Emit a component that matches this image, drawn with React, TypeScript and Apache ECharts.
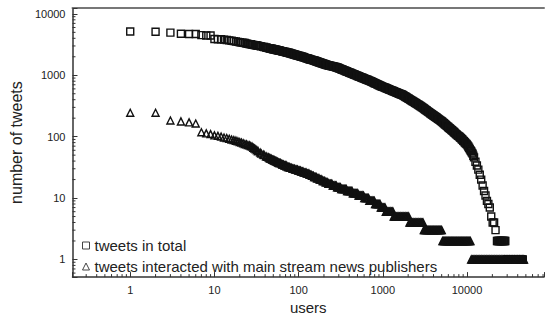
import React, { useEffect, useRef } from 'react';
import * as echarts from 'echarts';

// Axis extents (log scales)
const X_MIN = 0.2062;
const X_MAX = 82100;
const Y_MIN = 0.516;
const Y_MAX = 12460;

const seriesNames = ['tweets in total', 'tweets interacted with main stream news publishers'];
const xAxisName = 'users';
const yAxisName = 'number of tweets';
const majorTickLabels = [1, 10, 100, 1000, 10000];

// [user rank, number of tweets]
const totalTweets: [number, number][] = [
  [1, 5150], [2, 5100], [3, 4950], [4, 4750], [5, 4700], [6, 4700], [7, 4500], [8, 4450], [9, 4450], [10, 3900],
  [11, 3850], [12, 3850], [13, 3800], [14, 3750], [15, 3700], [16, 3650], [17, 3600], [18, 3550], [19, 3500], [20, 3450],
  [21, 3400], [22, 3380], [23, 3350], [24, 3300], [25, 3250], [26, 3220], [27, 3200], [28, 3150], [29, 3120],
  [30, 3100], [31, 3080], [32, 3050], [33, 3020], [35, 2980], [36, 2950], [38, 2900], [39, 2880], [41, 2830], [42, 2810],
  [44, 2770], [46, 2730], [48, 2700], [50, 2660], [52, 2630], [54, 2600], [56, 2570], [58, 2540], [60, 2510], [63, 2470],
  [65, 2450], [68, 2410], [71, 2380], [73, 2350], [76, 2320], [79, 2280], [83, 2240], [86, 2210], [89, 2180], [93, 2140],
  [97, 2100], [101, 2070], [105, 2040], [109, 2010], [113, 1980], [118, 1940], [123, 1900], [128, 1870], [133, 1840],
  [138, 1810], [144, 1780], [150, 1750], [156, 1720], [162, 1690], [168, 1660], [175, 1630], [182, 1600], [189, 1570],
  [197, 1540], [205, 1510], [213, 1480], [222, 1460], [230, 1440], [240, 1420], [249, 1410], [259, 1390], [270, 1370],
  [280, 1350], [292, 1325], [303, 1298], [315, 1270], [328, 1241], [341, 1214], [355, 1188], [369, 1162], [384, 1136],
  [399, 1112], [415, 1088], [432, 1064], [449, 1041], [467, 1019], [486, 996], [505, 975], [525, 954], [546, 933],
  [568, 912], [591, 892], [615, 872], [639, 854], [665, 835], [691, 818], [719, 800], [748, 780], [778, 760], [809, 741],
  [841, 723], [875, 705], [910, 687], [946, 670], [984, 653], [1023, 642], [1064, 628], [1107, 613], [1151, 600],
  [1197, 586], [1245, 573], [1295, 561], [1347, 548], [1401, 536], [1457, 524], [1515, 512], [1576, 501], [1639, 490],
  [1704, 481], [1772, 466], [1843, 451], [1917, 436], [1994, 421], [2073, 408], [2156, 394], [2243, 381], [2332, 369],
  [2426, 356], [2523, 345], [2624, 333], [2729, 322], [2838, 311], [2951, 300], [3069, 288], [3192, 277], [3320, 266],
  [3453, 256], [3591, 246], [3734, 237], [3884, 228], [4039, 219], [4201, 211], [4369, 203], [4543, 195], [4725, 188],
  [4914, 181], [5111, 173], [5315, 165], [5528, 158], [5749, 150], [5979, 144], [6218, 137], [6467, 131], [6725, 125],
  [6994, 119], [7274, 113], [7565, 108], [7868, 103], [8183, 99], [8510, 94], [8850, 89], [9204, 84], [9572, 79],
  [9955, 75], [10354, 69], [10768, 63], [11199, 58], [11647, 53], [12113, 46], [12597, 39], [13101, 34], [13625, 29],
  [14170, 24], [14737, 20], [15326, 16], [15939, 13], [16577, 11], [17240, 9], [17930, 8], [18647, 7], [19393, 5],
  [20169, 4], [20975, 4], [21814, 3], [22687, 2], [23594, 2], [24538, 2], [25520, 2], [26541, 2], [27602, 2], [28500, 2],
  [29854, 1], [31048, 1], [32290, 1], [33582, 1], [34925, 1], [36322, 1], [37775, 1], [39286, 1], [40857, 1], [42491, 1],
  [44191, 1], [45959, 1],
];

// more users of the same series, in between the ones above
const totalTweetsMore: [number, number][] = [
  [45, 2750], [47, 2715], [49, 2680], [51, 2645], [53, 2615], [55, 2585], [57, 2555], [59, 2525], [61, 2495],
  [64, 2460], [66, 2430], [70, 2390], [72, 2365], [75, 2330], [78, 2300], [81, 2260], [85, 2220], [88, 2190],
  [91, 2160], [95, 2120], [99, 2085], [103, 2055], [107, 2025], [111, 1995], [115, 1960], [120, 1920], [125, 1885],
  [130, 1855], [135, 1825], [141, 1795], [147, 1765], [153, 1735], [159, 1705], [165, 1675], [171, 1645], [178, 1615],
  [185, 1585], [193, 1555], [201, 1525], [209, 1495], [217, 1470], [226, 1450], [235, 1430], [244, 1415], [254, 1400],
  [264, 1380], [275, 1360], [286, 1338], [297, 1311], [309, 1284], [321, 1255], [334, 1228], [348, 1201], [362, 1175],
  [376, 1149], [391, 1124], [407, 1100], [423, 1076], [440, 1052], [458, 1030], [476, 1007], [495, 985], [515, 964],
  [535, 943], [557, 922], [579, 902], [603, 882], [627, 863], [652, 844], [678, 826], [705, 809], [733, 790],
  [763, 770], [793, 750], [825, 732], [858, 714], [892, 696], [928, 678], [965, 661], [1003, 647], [1043, 635],
  [1085, 620], [1129, 606], [1174, 593], [1221, 579], [1270, 567], [1321, 554], [1374, 542], [1429, 530], [1486, 518],
  [1545, 506], [1607, 495], [1671, 485], [1738, 473], [1807, 458], [1880, 443], [1955, 428], [2033, 414], [2114, 401],
  [2199, 387], [2287, 375], [2379, 362], [2474, 350], [2573, 339], [2676, 327], [2783, 316], [2894, 305], [3010, 294],
  [3130, 282], [3256, 271], [3386, 261], [3522, 251], [3662, 241], [3808, 232], [3961, 223], [4119, 215], [4284, 207],
  [4455, 199], [4633, 191], [4819, 184], [5012, 177], [5212, 169], [5420, 161], [5637, 154], [5863, 147], [6097, 140],
  [6341, 134], [6595, 128], [6858, 122], [7133, 116], [7418, 110], [7715, 105], [8024, 101], [8345, 96], [8678, 91],
  [9025, 86], [9386, 81], [9762, 77], [10153, 72], [10559, 66], [10981, 60], [11421, 55], [11878, 49],
  [23135, 2], [24061, 2], [25024, 2], [26026, 2], [27067, 2], [28000, 2],
  [30446, 1], [31664, 1], [32931, 1], [34248, 1], [35618, 1], [37042, 1], [38523, 1], [40064, 1], [41667, 1],
  [43333, 1], [45067, 1],
];

const newsTweets: [number, number][] = [
  [1, 245], [2, 245], [3, 183], [4, 177], [5, 171], [6, 164], [7, 118], [8, 113], [9, 110], [10, 105],
  [11, 103], [12, 100], [13, 97], [14, 95], [15, 92], [16, 90], [17, 88], [18, 86], [19, 84], [20, 82],
  [21, 80], [22, 78], [23, 76], [24, 75], [25, 73], [26, 72], [27, 70], [28, 69], [29, 66],
  [30, 64], [31, 62], [32, 60], [33, 58], [35, 55], [36, 53], [38, 51], [39, 50], [41, 48], [42, 47], [44, 46],
  [46, 44], [48, 43], [50, 42], [52, 41], [54, 40], [56, 39], [58, 38], [60, 37], [63, 36], [65, 35], [68, 34],
  [71, 34], [73, 33], [76, 32], [79, 31], [83, 31], [86, 30], [89, 30], [93, 29], [97, 29], [101, 28], [105, 28],
  [109, 27], [113, 27], [118, 26], [123, 26], [128, 25], [133, 25], [138, 24], [144, 23], [150, 23], [156, 22],
  [162, 22], [168, 21], [175, 21], [182, 20], [189, 20], [197, 19], [205, 19], [213, 18], [222, 18], [230, 17],
  [240, 17], [249, 17], [259, 16], [270, 16], [280, 16], [292, 15], [303, 15], [315, 15], [328, 14], [341, 14],
  [355, 14], [369, 14], [384, 13], [399, 13], [415, 13], [432, 13], [449, 12], [467, 12], [486, 12], [505, 12],
  [525, 11], [546, 11], [568, 11], [591, 11], [615, 10], [639, 10], [665, 10], [691, 9], [719, 9], [748, 9],
  [778, 9], [809, 8], [841, 8], [875, 8], [910, 8], [946, 7], [984, 7], [1023, 7], [1064, 7], [1107, 6], [1151, 6],
  [1197, 6], [1245, 6], [1295, 6], [1347, 5], [1401, 5], [1457, 5], [1515, 5], [1576, 5], [1639, 5], [1704, 5],
  [1772, 5], [1843, 5], [1917, 5], [1994, 5], [2073, 4], [2156, 4], [2243, 4], [2332, 4], [2426, 4], [2523, 4],
  [2624, 4], [2729, 4], [2838, 4], [2951, 4], [3069, 3], [3192, 3], [3320, 3], [3453, 3], [3591, 3], [3734, 3],
  [3884, 3], [4039, 3], [4201, 3], [4369, 3], [4543, 3], [4725, 3], [4914, 3], [5111, 2], [5315, 2], [5528, 2],
  [5749, 2], [5979, 2], [6218, 2], [6467, 2], [6725, 2], [6994, 2], [7274, 2], [7565, 2], [7868, 2], [8183, 2],
  [8510, 2], [8850, 2], [9204, 2], [9572, 2], [9955, 2], [10354, 2], [10768, 2], [11199, 1], [11647, 1], [12113, 1],
  [12597, 1], [13101, 1], [13625, 1], [14170, 1], [14737, 1], [15326, 1], [15939, 1], [16577, 1], [17240, 1],
  [17930, 1], [18647, 1], [19393, 1], [20169, 1], [20975, 1], [21814, 1], [22687, 1], [23594, 1], [24538, 1],
  [25520, 1], [26541, 1], [27602, 1], [28706, 1], [29854, 1], [31048, 1], [32290, 1], [33582, 1], [34925, 1],
  [36322, 1], [37775, 1], [39286, 1], [40857, 1], [42491, 1], [44191, 1], [45959, 1], [47500, 1],
];

const newsTweetsMore: [number, number][] = [
  [45, 45], [47, 44], [49, 42], [51, 41], [53, 40], [55, 39], [57, 38], [59, 37], [61, 37], [64, 35], [66, 35],
  [70, 34], [72, 33], [75, 32], [78, 32], [81, 31], [85, 30], [88, 30], [91, 29], [95, 29], [99, 28], [103, 28],
  [107, 27], [111, 27], [115, 26], [120, 26], [125, 25], [130, 25], [135, 24], [141, 24], [147, 23], [153, 22],
  [159, 22], [165, 21], [171, 21], [178, 20], [185, 20], [193, 19], [201, 19], [209, 18], [217, 18], [226, 17],
  [235, 17], [244, 17], [254, 16], [264, 16], [275, 16], [286, 15], [297, 15], [309, 15], [321, 14], [334, 14],
  [348, 14], [362, 14], [376, 13], [391, 13], [407, 13], [423, 13], [440, 12], [458, 12], [476, 12], [495, 12],
  [515, 11], [535, 11], [557, 11], [579, 11], [603, 10], [627, 10], [652, 10], [678, 10], [705, 9], [733, 9],
  [763, 9], [793, 9], [825, 8], [858, 8], [892, 8], [928, 8], [965, 7], [1003, 7], [1043, 7], [1085, 6],
  [1129, 6], [1174, 6], [1221, 6], [1270, 6], [1321, 6], [1374, 5], [1429, 5], [1486, 5], [1545, 5], [1607, 5],
  [1671, 5], [1738, 5], [1807, 5], [1880, 5], [1955, 5], [2033, 5], [2114, 4], [2199, 4], [2287, 4], [2379, 4],
  [2474, 4], [2573, 4], [2676, 4], [2783, 4], [2894, 4], [3010, 4], [3130, 3], [3256, 3], [3386, 3], [3522, 3],
  [3662, 3], [3808, 3], [3961, 3], [4119, 3], [4284, 3], [4455, 3], [4633, 3], [4819, 3], [5012, 3], [5212, 2],
  [5420, 2], [5637, 2], [5863, 2], [6097, 2], [6341, 2], [6595, 2], [6858, 2], [7133, 2], [7418, 2], [7715, 2],
  [8024, 2], [8345, 2], [8678, 2], [9025, 2], [9386, 2], [9762, 2], [10153, 2], [10559, 2], [10981, 2], [11421, 1],
  [11878, 1], [12353, 1], [12847, 1], [13361, 1], [13895, 1], [14451, 1], [15029, 1], [15630, 1], [16255, 1],
  [16905, 1], [17581, 1], [18285, 1], [19016, 1], [19777, 1], [20568, 1], [21390, 1], [22246, 1], [23135, 1],
  [24061, 1], [25024, 1], [26026, 1], [27067, 1], [28149, 1], [29275, 1], [30446, 1], [31664, 1], [32931, 1],
  [34248, 1], [35618, 1], [37042, 1], [38523, 1], [40064, 1], [41667, 1], [43333, 1], [45067, 1], [46725, 1],
];

const FONT = '"Liberation Sans", Arial, Helvetica, sans-serif';
const INK = '#222';
const AXIS = '#333';
const MARK = '#111';

function minorTicks(lo: number, hi: number): number[] {
  const out: number[] = [];
  for (let e = -2; e <= 6; e++) {
    const d = Math.pow(10, e);
    for (let k = 2; k <= 9; k++) {
      const v = k * d;
      if (v > lo && v < hi) out.push(v);
    }
  }
  return out;
}

const isMajor = (v: number) => {
  const l = Math.log10(v);
  return Math.abs(l - Math.round(l)) < 1e-6 && majorTickLabels.includes(Math.round(v));
};

export default function App() {
  const ref = useRef<HTMLDivElement>(null);
  useEffect(() => {
    if (!ref.current) return;
    const chart = echarts.init(ref.current, undefined, { renderer: 'svg' });
    const xMinor = minorTicks(X_MIN, X_MAX);
    const yMinor = minorTicks(Y_MIN, Y_MAX);
    const axisCommon = {
      type: 'log' as const,
      logBase: 10,
      splitLine: { show: false },
      axisLine: { show: true, lineStyle: { color: AXIS, width: 1.5 } },
      axisTick: { show: true, inside: true, length: 5, lineStyle: { color: AXIS, width: 1 } },
      axisLabel: {
        color: INK,
        fontSize: 11,
        fontFamily: FONT,
        formatter: (v: number) => (isMajor(v) ? String(Math.round(v)) : ''),
      },
    };
    const markStyle = { color: 'rgba(255,255,255,0)', borderColor: MARK, borderWidth: 1.4, opacity: 1 };
    chart.setOption({
      animation: false,
      backgroundColor: '#fff',
      grid: { left: 57, right: 0, top: 8, bottom: 37, containLabel: false },
      xAxis: [
        {
          ...axisCommon,
          min: X_MIN,
          max: X_MAX,
          name: xAxisName,
          nameLocation: 'middle',
          nameGap: 12,
          nameTextStyle: { color: INK, fontSize: 15, fontFamily: FONT, verticalAlign: 'top' },
          axisLabel: { ...axisCommon.axisLabel, margin: 7 },
        },
        {
          type: 'log',
          logBase: 10,
          min: X_MIN,
          max: X_MAX,
          position: 'top',
          axisLine: { show: true, lineStyle: { color: '#777', width: 2 } },
          axisTick: { show: false },
          axisLabel: { show: false },
          splitLine: { show: false },
        },
      ],
      yAxis: {
        ...axisCommon,
        min: Y_MIN,
        max: Y_MAX,
        name: yAxisName,
        nameLocation: 'middle',
        nameGap: 33,
        nameTextStyle: { color: INK, fontSize: 16, fontFamily: FONT },
        axisLabel: { ...axisCommon.axisLabel, margin: 7 },
      },
      legend: {
        data: seriesNames,
        orient: 'vertical',
        left: 77,
        top: 233,
        itemWidth: 7,
        itemHeight: 7,
        itemGap: 6,
        selectedMode: false,
        itemStyle: { color: 'rgba(255,255,255,0)', borderColor: '#444', borderWidth: 1 },
        textStyle: { color: INK, fontSize: 15, lineHeight: 15, fontFamily: FONT },
      },
      series: [
        {
          name: seriesNames[0],
          type: 'scatter',
          symbol: 'rect',
          symbolSize: 7,
          data: [...totalTweets, ...totalTweetsMore],
          silent: true,
          itemStyle: markStyle,
          z: 2,
        },
        {
          name: seriesNames[1],
          type: 'scatter',
          symbol: 'triangle',
          symbolSize: 7,
          data: [...newsTweets, ...newsTweetsMore],
          silent: true,
          itemStyle: markStyle,
          z: 2,
        },
        {
          type: 'custom',
          coordinateSystem: 'cartesian2d',
          silent: true,
          clip: false,
          z: 3,
          data: xMinor.map((v) => [v, Y_MIN]),
          renderItem: (_p: any, api: any) => {
            const pt = api.coord([api.value(0), api.value(1)]);
            return {
              type: 'line',
              shape: { x1: pt[0], y1: pt[1], x2: pt[0], y2: pt[1] - 3 },
              style: { stroke: AXIS, lineWidth: 1 },
            };
          },
        },
        {
          type: 'custom',
          coordinateSystem: 'cartesian2d',
          silent: true,
          clip: false,
          z: 3,
          data: yMinor.map((v) => [X_MIN, v]),
          renderItem: (_p: any, api: any) => {
            const pt = api.coord([api.value(0), api.value(1)]);
            return {
              type: 'line',
              shape: { x1: pt[0], y1: pt[1], x2: pt[0] + 3, y2: pt[1] },
              style: { stroke: AXIS, lineWidth: 1 },
            };
          },
        },
      ],
    });
    return () => chart.dispose();
  }, []);
  return (
    <div
      ref={ref}
      style={{ position: 'absolute', left: 0, top: 0, width: 547, height: 320 }}
    />
  );
}
